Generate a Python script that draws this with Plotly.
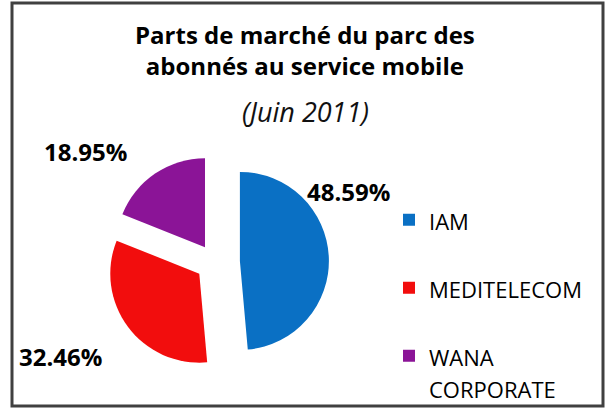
import plotly.graph_objects as go

labels = ["IAM", "MEDITELECOM", "WANA<br>CORPORATE"]
values = [48.59, 32.46, 18.95]
colors = ["#0A70C4", "#F20D0D", "#8B1497"]

W, H = 606, 409
FONT = "'Open Sans', sans-serif"


def X(px):
    return px / W


def Y(py):
    return 1 - py / H


# pie geometry (page pixels)
cx, cy, r = 215, 262, 89
pulls = [0.28, 0.22, 0.2]
half = r * (1 + max(pulls))

legend_text = [f"<span style='font-size:22px'>{l}</span>" + ("" if "<br>" in l else "<br> ")
               for l in labels]

fig = go.Figure()
fig.add_trace(go.Pie(
    labels=legend_text,
    values=values,
    sort=False,
    direction="clockwise",
    rotation=0,
    pull=pulls,
    marker=dict(colors=colors, line=dict(width=0)),
    textinfo="none",
    hoverinfo="percent",
    domain=dict(x=[X(cx - half), X(cx + half)], y=[Y(cy + half), Y(cy - half)]),
))

# data labels (text from values)
label_pos = [(348, 191), (60, 356), (85, 152)]
for v, (px, py) in zip(values, label_pos):
    fig.add_annotation(x=X(px), y=Y(py), xref="paper", yref="paper",
                       xanchor="center", yanchor="middle",
                       text=f"<b>{v:.2f}%</b>", showarrow=False,
                       font=dict(family=FONT, size=24, color="#000"))

fig.add_annotation(x=X(305), y=Y(50), xref="paper", yref="paper",
                   xanchor="center", yanchor="middle",
                   text="<b>Parts de marché du parc des<br>abonnés au service mobile</b>",
                   showarrow=False,
                   font=dict(family=FONT, size=24, color="#000"))
fig.add_annotation(x=X(305), y=Y(112), xref="paper", yref="paper",
                   xanchor="center", yanchor="middle",
                   text="<i>(Juin 2011)</i>", showarrow=False,
                   font=dict(family=FONT, size=27, color="#111"))

fig.add_shape(type="rect", xref="paper", yref="paper",
              x0=X(12), x1=X(603), y0=Y(406), y1=Y(3),
              line=dict(color="#404040", width=3))

fig.update_layout(
    width=W, height=H,
    margin=dict(l=0, r=0, t=0, b=0, autoexpand=False),
    paper_bgcolor="white",
    plot_bgcolor="white",
    showlegend=True,
    legend=dict(x=X(389), y=Y(197), xanchor="left", yanchor="top",
                font=dict(family=FONT, size=25, color="#000"),
                valign="top", bgcolor="rgba(0,0,0,0)", itemwidth=30),
)

fig.write_html("out.html", config={"displayModeBar": False},
               post_script="document.body.style.margin='0px';")
